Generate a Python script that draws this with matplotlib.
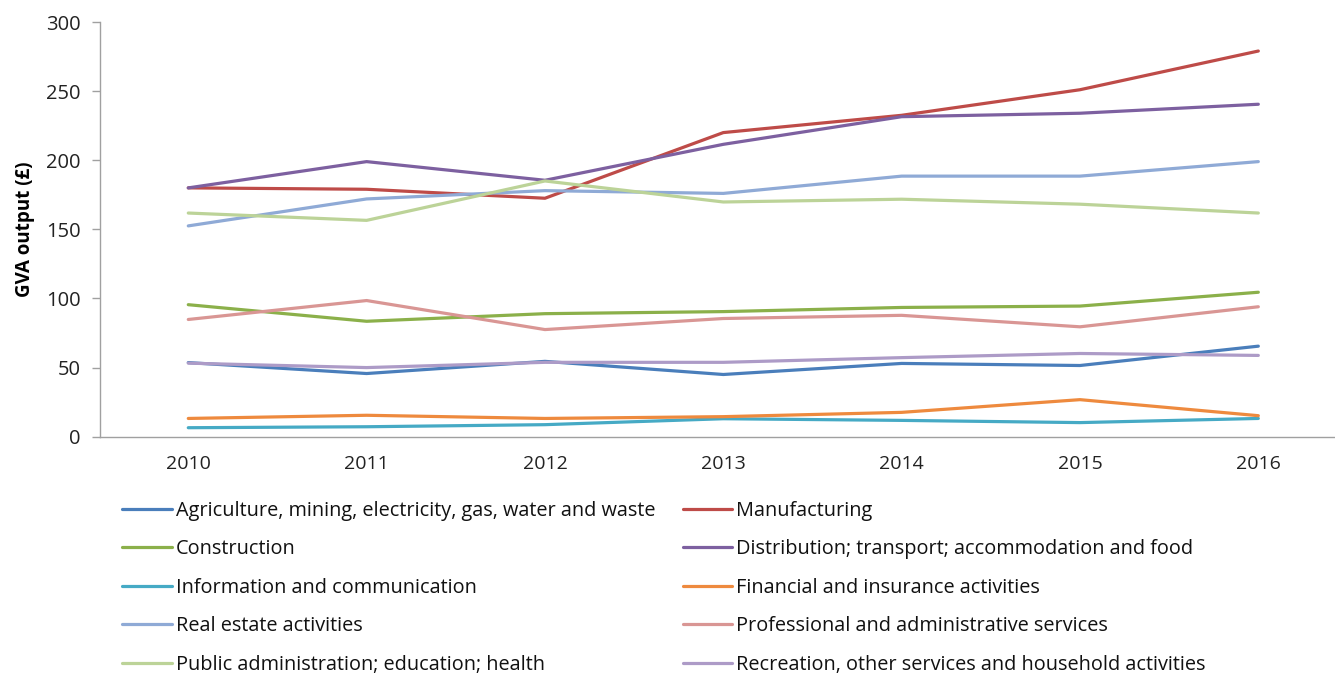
import matplotlib
matplotlib.use("Agg")
import matplotlib.pyplot as plt

years = [2010, 2011, 2012, 2013, 2014, 2015, 2016]

agriculture = [53.6, 45.7, 54.5, 45.0, 53.0, 51.5, 65.5]
manufacturing = [180.0, 179.0, 172.5, 220.0, 232.5, 251.0, 279.0]
construction = [95.5, 83.5, 89.0, 90.5, 93.5, 94.5, 104.5]
distribution = [180.0, 199.0, 185.5, 211.5, 231.5, 234.0, 240.5]
information = [6.5, 7.2, 8.7, 13.0, 11.8, 10.2, 13.2]
financial = [13.2, 15.5, 13.2, 14.5, 17.6, 26.8, 15.2]
real_estate = [152.5, 172.0, 178.0, 176.0, 188.5, 188.5, 199.0]
public_admin = [161.8, 156.5, 185.0, 169.8, 171.8, 168.2, 161.8]
professional = [84.8, 98.5, 77.5, 85.5, 87.8, 79.5, 94.0]
recreation = [53.2, 50.0, 53.8, 53.8, 57.2, 60.2, 58.8]

series_labels = [
    "Agriculture, mining, electricity, gas, water and waste",
    "Manufacturing",
    "Construction",
    "Distribution; transport; accommodation and food",
    "Information and communication",
    "Financial and insurance activities",
    "Real estate activities",
    "Professional and administrative services",
    "Public administration; education; health",
    "Recreation, other services and household activities",
]
series_values = [agriculture, manufacturing, construction, distribution,
                 information, financial, real_estate, professional,
                 public_admin, recreation]
series_colors = ["#4A7EBB", "#BE4B48", "#8BB04A", "#7D60A0", "#46AAC5",
                 "#EE8A3E", "#8FAAD6", "#D99694", "#BCD398", "#AD9BC7"]

y_ticks = [0, 50, 100, 150, 200, 250, 300]

plt.rcParams["font.family"] = ["Open Sans", "DejaVu Sans"]

fig = plt.figure(figsize=(13.35, 6.75), dpi=100)
ax = fig.add_axes([100 / 1335, 1 - 436.7 / 675, 1235 / 1335, (436.7 - 22) / 675])

lines = []
for vals, col, lab in zip(series_values, series_colors, series_labels):
    ln, = ax.plot(years, vals, color=col, lw=2.3, label=lab,
                  solid_capstyle="round", solid_joinstyle="round")
    lines.append(ln)

ax.set_xlim(2009.505, 2016.43)
ax.set_ylim(0, 300)
ax.set_yticks(y_ticks)
ax.set_xticks(years)
ax.set_xticklabels([str(y) for y in years])

for side in ("top", "right"):
    ax.spines[side].set_visible(False)
for side in ("left", "bottom"):
    ax.spines[side].set_color("#A0A0A0")
    ax.spines[side].set_linewidth(1.0)

ax.tick_params(axis="y", length=6, width=1.0, color="#A0A0A0",
               labelsize=14.5, labelcolor="#222222", pad=8)
ax.tick_params(axis="x", length=0, labelsize=14, labelcolor="#222222", pad=13)

ax.set_ylabel("GVA output (£)", fontsize=13.5, fontweight="bold")
ax.yaxis.set_label_coords(-0.053, 0.5)

# reorder handles so the legend reads left-to-right by row
order = [0, 2, 4, 6, 8, 1, 3, 5, 7, 9]
fig.legend([lines[i] for i in order], [series_labels[i] for i in order],
           ncol=2, loc="upper left", bbox_to_anchor=(108 / 1335, 1 - 487 / 675),
           frameon=False, fontsize=14.3, handlelength=2.5, handletextpad=0.2,
           columnspacing=1.4, labelspacing=0.93, borderpad=0.2,
           labelcolor="#111111")

fig.savefig("out.png", dpi=100)
